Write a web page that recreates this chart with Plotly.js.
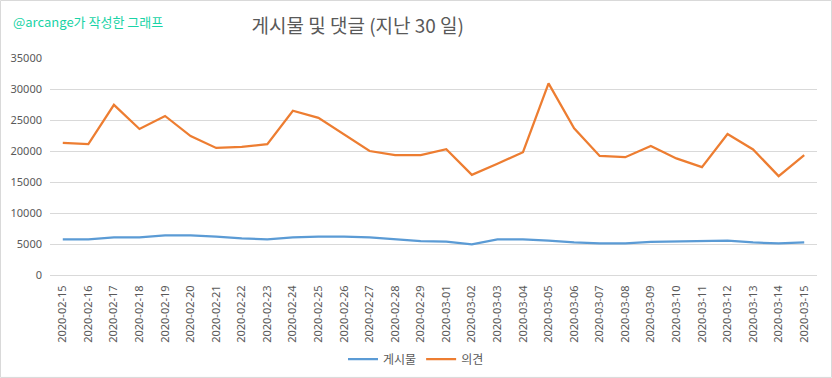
<!DOCTYPE html>
<html><head><meta charset="utf-8">
<script src="https://cdn.plot.ly/plotly-3.0.1.min.js"></script>
<style>html,body{margin:0;padding:0;background:#fff}#c{width:832px;height:378px}</style>
</head><body><div id="c"></div>
<script>
const dates = ["2020-02-15","2020-02-16","2020-02-17","2020-02-18","2020-02-19","2020-02-20","2020-02-21","2020-02-22","2020-02-23","2020-02-24","2020-02-25","2020-02-26","2020-02-27","2020-02-28","2020-02-29","2020-03-01","2020-03-02","2020-03-03","2020-03-04","2020-03-05","2020-03-06","2020-03-07","2020-03-08","2020-03-09","2020-03-10","2020-03-11","2020-03-12","2020-03-13","2020-03-14","2020-03-15"];
const posts = [5750,5750,6050,6050,6400,6400,6200,5900,5750,6050,6200,6200,6050,5750,5450,5400,4950,5750,5750,5550,5250,5100,5100,5350,5400,5400,5550,5250,5100,5250];
const comments = [21300,21100,27450,23550,25650,22400,20500,20650,21100,26500,25350,22700,20000,19350,19350,20300,16150,17950,19800,30900,23650,19200,19000,20800,18800,17400,22750,20250,15950,19350];
const yTicks = [0,5000,10000,15000,20000,25000,30000,35000];

const txt = '#595959';
const data = [
  {x: dates, y: posts, name: '게시물', type: 'scatter', mode: 'lines', line: {color: '#5b9bd5', width: 2.25}},
  {x: dates, y: comments, name: '의견', type: 'scatter', mode: 'lines', line: {color: '#ed7d31', width: 2.25}}
];
const layout = {
  width: 832, height: 378,
  margin: {l: 50, r: 15, t: 58, b: 103},
  paper_bgcolor: '#fff', plot_bgcolor: '#fff',
  font: {family: 'Noto Sans CJK KR, Noto Sans, sans-serif', color: txt},
  title: {text: '게시물 및 댓글 (지난 30 일)', x: 0.43, xanchor: 'center', y: 0.93, yanchor: 'middle',
          font: {size: 19, color: txt, family: 'Noto Sans CJK KR, sans-serif'}},
  xaxis: {type: 'category', range: [-0.5, 29.5], automargin: false, tickangle: -90,
          tickfont: {size: 11, color: txt, family: 'Noto Sans, sans-serif'}, ticklabelstandoff: 5,
          showgrid: false, showline: true, linecolor: '#d9d9d9', linewidth: 1, ticks: '', fixedrange: true},
  yaxis: {range: [0, 35000], automargin: false, tickvals: yTicks, ticktext: yTicks.map(String),
          tickfont: {size: 11, color: txt, family: 'Noto Sans, sans-serif'}, ticklabelstandoff: 7,
          showgrid: true, gridcolor: '#d9d9d9', gridwidth: 1, zeroline: false, showline: false, ticks: '', ticklen: 0},
  showlegend: true,
  legend: {orientation: 'h', xref: 'container', yref: 'container', x: 0.5, xanchor: 'center', y: 0.05, yanchor: 'middle',
           font: {size: 12, color: txt, family: 'Noto Sans CJK KR, sans-serif'}},
  annotations: [{text: '@arcange가 작성한 그래프', xref: 'paper', yref: 'paper', x: -0.051, y: 1.167,
                 xanchor: 'left', yanchor: 'middle', showarrow: false,
                 font: {size: 13, color: '#19d3a6', family: 'Noto Sans CJK KR, sans-serif'}}],
  shapes: [{type: 'rect', xref: 'paper', yref: 'paper', x0: -0.0645, x1: 1.0189, y0: -0.472, y1: 1.265,
            line: {color: '#d9d9d9', width: 1}, fillcolor: 'rgba(0,0,0,0)', layer: 'below'}]
};
Plotly.newPlot('c', data, layout, {displayModeBar: false, staticPlot: true});
</script>
</body></html>
